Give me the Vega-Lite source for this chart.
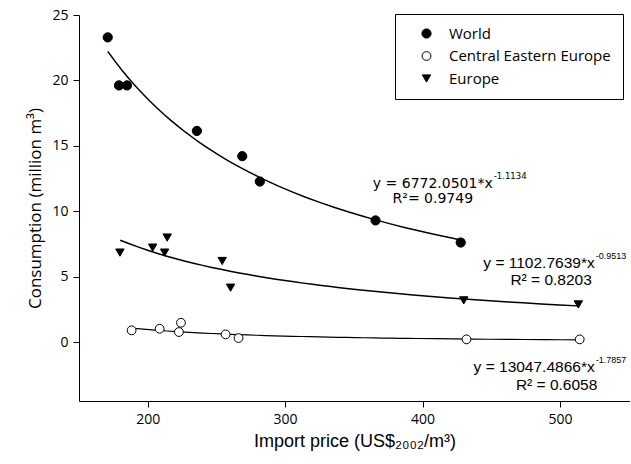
{
  "$schema": "https://vega.github.io/schema/vega-lite/v6.json",
  "width": 551,
  "height": 386,
  "autosize": "none",
  "padding": {"left": 79, "top": 15, "right": 0, "bottom": 63},
  "background": "white",
  "config": {
    "view": {"stroke": null},
    "axis": {"grid": false, "domainColor": "black", "tickColor": "black", "labelColor": "black", "titleColor": "black", "tickSize": 6, "domainWidth": 1, "tickWidth": 1},
    "legend": {
      "orient": "none", "legendX": 316, "legendY": -1, "title": null,
      "strokeColor": "black", "strokeWidth": 1, "fillColor": "white", "padding": 12, "cornerRadius": 0,
      "rowPadding": 6.5, "symbolOffset": 12, "labelOffset": 15,
      "labelFont": "Open Sans", "labelFontSize": 15, "labelColor": "black", "labelLimit": 300,
      "symbolStrokeColor": "black", "symbolStrokeWidth": 1
    }
  },
  "datasets": {
    "points": [
      {"series": "World", "price": 170.9, "consumption": 23.29},
      {"series": "World", "price": 179.1, "consumption": 19.62},
      {"series": "World", "price": 184.9, "consumption": 19.62},
      {"series": "World", "price": 235.8, "consumption": 16.14},
      {"series": "World", "price": 268.8, "consumption": 14.21},
      {"series": "World", "price": 281.6, "consumption": 12.27},
      {"series": "World", "price": 365.8, "consumption": 9.3},
      {"series": "World", "price": 427.8, "consumption": 7.61},
      {"series": "Central Eastern Europe", "price": 188.3, "consumption": 0.9},
      {"series": "Central Eastern Europe", "price": 208.7, "consumption": 1.02},
      {"series": "Central Eastern Europe", "price": 222.7, "consumption": 0.77},
      {"series": "Central Eastern Europe", "price": 224.2, "consumption": 1.48},
      {"series": "Central Eastern Europe", "price": 256.7, "consumption": 0.59},
      {"series": "Central Eastern Europe", "price": 266.1, "consumption": 0.31},
      {"series": "Central Eastern Europe", "price": 432.0, "consumption": 0.21},
      {"series": "Central Eastern Europe", "price": 514.4, "consumption": 0.21},
      {"series": "Europe", "price": 179.8, "consumption": 6.84},
      {"series": "Europe", "price": 203.6, "consumption": 7.22},
      {"series": "Europe", "price": 212.3, "consumption": 6.84},
      {"series": "Europe", "price": 214.2, "consumption": 7.99},
      {"series": "Europe", "price": 254.2, "consumption": 6.2},
      {"series": "Europe", "price": 260.3, "consumption": 4.16},
      {"series": "Europe", "price": 430.0, "consumption": 3.19},
      {"series": "Europe", "price": 513.4, "consumption": 2.88}
    ],
    "labels": [
      {"eq": "1", "part": "main", "text": "y = 6772.0501*x", "price": 451.1, "consumption": 12.07},
      {"eq": "1", "part": "sup", "text": "-1.1134", "price": 451.1, "consumption": 12.07},
      {"eq": "1", "part": "r2", "text": "R²= 0.9749", "price": 407.5, "consumption": 10.92},
      {"eq": "2", "part": "main", "text": "y = 1102.7639*x", "price": 525.3, "consumption": 6.07},
      {"eq": "2", "part": "sup", "text": "-0.9513", "price": 525.3, "consumption": 6.07},
      {"eq": "2", "part": "r2", "text": "R² = 0.8203", "price": 493.6, "consumption": 4.72},
      {"eq": "3", "part": "main", "text": "y = 13047.4866*x", "price": 525.3, "consumption": -1.91},
      {"eq": "3", "part": "sup", "text": "-1.7857", "price": 525.3, "consumption": -1.91},
      {"eq": "3", "part": "r2", "text": "R² = 0.6058", "price": 497.6, "consumption": -3.31}
    ]
  },
  "encoding": {
    "x": {
      "field": "price", "type": "quantitative",
      "scale": {"domain": [150, 551], "nice": false, "zero": false},
      "axis": {"values": [200, 300, 400, 500], "title": "Import price (US$₂₀₀₂/m³)", "titleFont": "Liberation Sans", "titleFontSize": 18, "titleFontWeight": "normal", "titlePadding": 6, "labelFont": "Open Sans", "labelFontSize": 14, "labelPadding": 5}
    },
    "y": {
      "field": "consumption", "type": "quantitative",
      "scale": {"domain": [-4.5, 25], "nice": false, "zero": false},
      "axis": {"values": [0, 5, 10, 15, 20, 25], "title": "Consumption (million m³)", "titleFont": "Open Sans", "titleFontSize": 17, "titleFontWeight": "normal", "titlePadding": 7, "labelFont": "Open Sans", "labelFontSize": 14, "labelPadding": 5}
    }
  },
  "layer": [
    {
      "data": {"name": "points"},
      "transform": [{"filter": "datum.series === 'World'"}, {"regression": "consumption", "on": "price", "method": "pow", "extent": [171, 428]}],
      "mark": {"type": "line", "color": "black", "strokeWidth": 1.5}
    },
    {
      "data": {"name": "points"},
      "transform": [{"filter": "datum.series === 'Europe'"}, {"regression": "consumption", "on": "price", "method": "pow", "extent": [180, 513]}],
      "mark": {"type": "line", "color": "black", "strokeWidth": 1.5}
    },
    {
      "data": {"name": "points"},
      "transform": [{"filter": "datum.series === 'Central Eastern Europe'"}, {"regression": "consumption", "on": "price", "method": "pow", "extent": [188, 514]}],
      "mark": {"type": "line", "color": "black", "strokeWidth": 1.2}
    },
    {
      "data": {"name": "points"},
      "mark": {"type": "point", "filled": true, "strokeWidth": 1, "opacity": 1},
      "encoding": {
        "shape": {"field": "series", "type": "nominal", "scale": {"domain": ["World", "Central Eastern Europe", "Europe"], "range": ["circle", "circle", "triangle-down"]}},
        "fill": {"field": "series", "type": "nominal", "scale": {"domain": ["World", "Central Eastern Europe", "Europe"], "range": ["black", "white", "black"]}},
        "stroke": {"field": "series", "type": "nominal", "scale": {"domain": ["World", "Central Eastern Europe", "Europe"], "range": ["black", "black", "black"]}},
        "size": {"field": "series", "type": "nominal", "scale": {"domain": ["World", "Central Eastern Europe", "Europe"], "range": [85, 70, 100]}}
      }
    },
    {
      "data": {"name": "labels"},
      "transform": [{"filter": "datum.eq === '1' && datum.part === 'main'"}],
      "mark": {"type": "text", "font": "DejaVu Sans", "fontSize": 14, "align": "right", "baseline": "middle", "color": "black"},
      "encoding": {"text": {"field": "text"}}
    },
    {
      "data": {"name": "labels"},
      "transform": [{"filter": "datum.eq === '1' && datum.part === 'sup'"}],
      "mark": {"type": "text", "font": "DejaVu Sans", "fontSize": 8.5, "align": "left", "baseline": "middle", "dy": -8, "dx": 1, "color": "black"},
      "encoding": {"text": {"field": "text"}}
    },
    {
      "data": {"name": "labels"},
      "transform": [{"filter": "datum.eq === '1' && datum.part === 'r2'"}],
      "mark": {"type": "text", "font": "DejaVu Sans", "fontSize": 14, "align": "center", "baseline": "middle", "color": "black"},
      "encoding": {"text": {"field": "text"}}
    },
    {
      "data": {"name": "labels"},
      "transform": [{"filter": "datum.eq !== '1' && datum.part === 'main'"}],
      "mark": {"type": "text", "font": "Liberation Sans", "fontSize": 15.5, "align": "right", "baseline": "middle", "color": "black"},
      "encoding": {"text": {"field": "text"}}
    },
    {
      "data": {"name": "labels"},
      "transform": [{"filter": "datum.eq !== '1' && datum.part === 'sup'"}],
      "mark": {"type": "text", "font": "Liberation Sans", "fontSize": 9, "align": "left", "baseline": "middle", "dy": -7, "dx": 1, "color": "black"},
      "encoding": {"text": {"field": "text"}}
    },
    {
      "data": {"name": "labels"},
      "transform": [{"filter": "datum.eq !== '1' && datum.part === 'r2'"}],
      "mark": {"type": "text", "font": "Liberation Sans", "fontSize": 15.5, "align": "center", "baseline": "middle", "color": "black"},
      "encoding": {"text": {"field": "text"}}
    }
  ]
}
